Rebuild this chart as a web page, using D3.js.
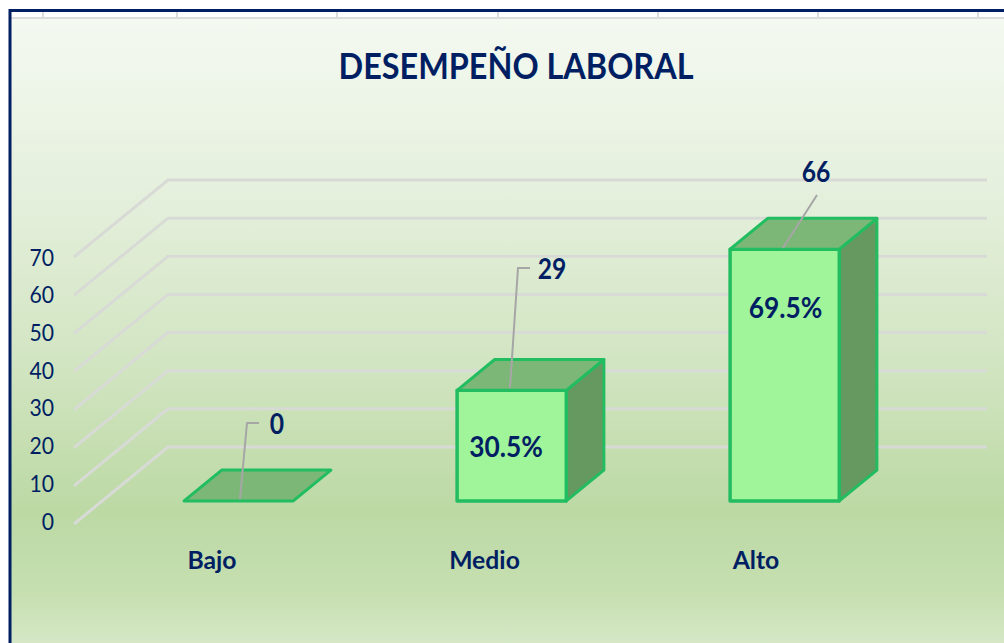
<!DOCTYPE html>
<html><head><meta charset="utf-8">
<script src="https://cdn.jsdelivr.net/npm/d3@7"></script>
<style>html,body{margin:0;padding:0;background:#fff}svg{display:block}text{font-family:Lato,"Open Sans",sans-serif}</style>
</head><body><svg id="c" width="1004" height="643"></svg>
<script>
const categories=["Bajo","Medio","Alto"];
const counts=[0,29,66];
const percents=["","30.5%","69.5%"];
const yTicks=[0,10,20,30,40,50,60,70];
const sheetTicks=[43,177,337,498,658,818,978];
const navy="#001f63";
const svg=d3.select("#c");
const defs=svg.append("defs");
const g=defs.append("linearGradient").attr("id","bg").attr("x1",0).attr("y1",0).attr("x2",0).attr("y2",1);
[[0,"#f4f9f1"],[0.3,"#e4efdb"],[0.55,"#d2e5c2"],[0.79,"#bcd9a4"],[0.92,"#c6dfb1"],[1,"#d5e7c5"]].forEach(s=>g.append("stop").attr("offset",s[0]).attr("stop-color",s[1]));
const soft=defs.append("filter").attr("id","soft").attr("x","-5%").attr("y","-5%").attr("width","110%").attr("height","110%");
soft.append("feGaussianBlur").attr("stdDeviation",0.5);
svg.append("rect").attr("x",10).attr("y",18).attr("width",994).attr("height",625).attr("fill","url(#bg)");
svg.selectAll(".st").data(sheetTicks).join("line").attr("x1",d=>d).attr("x2",d=>d).attr("y1",11).attr("y2",18).attr("stroke","#dcdcdc").attr("stroke-width",2);
svg.append("line").attr("x1",10).attr("x2",1004).attr("y1",18).attr("y2",18).attr("stroke","#dcdcdc").attr("stroke-width",2.2);
svg.append("path").attr("d","M10,643V10.5H1004").attr("fill","none").attr("stroke",navy).attr("stroke-width",3);
const depthX=94,depthY=-77;
const y=d3.scaleLinear().domain([0,70]).range([524,257]);
const yLabel=d3.scaleLinear().domain([0,70]).range([529.5,265.5]);
const x=d3.scaleBand().domain(categories).range([74,893]).padding(0.6).paddingOuter(0.3);
// condense a text by a factor, as the original face is narrower than Lato
function narrow(sel,f){sel.each(function(){const n=this;n.setAttribute("textLength",n.getComputedTextLength()*f);n.setAttribute("lengthAdjust","spacingAndGlyphs");});}
const grid=svg.append("g").attr("fill","none").attr("stroke","#d8dad6").attr("stroke-width",3);
grid.selectAll("path").data(yTicks).join("path").attr("d",d=>`M74,${y(d)}L${74+depthX},${y(d)+depthY}H${74+depthX+819}`);
svg.selectAll(".yl").data(yTicks).join("text").attr("x",54).attr("y",d=>yLabel(d)).attr("text-anchor","end").attr("fill",navy).attr("font-size",23).text(d=>d).call(narrow,0.92);
const d0=0.3,d1=0.7;
const fx=(c)=>x(c)+d0*depthX, bw=x.bandwidth();
const bdx=(d1-d0)*depthX, bdy=(d1-d0)*depthY;
const by=(v)=>y(v)+d0*depthY;
const stroke="#22bd60";
const bars=svg.selectAll(".bar").data(categories.map((c,i)=>({c,v:counts[i],p:percents[i]}))).join("g");
bars.each(function(d){
  const s=d3.select(this).append("g").attr("filter","url(#soft)"),l=fx(d.c),r=l+bw,t=by(d.v),b=by(0);
  if(d.v>0){
    s.append("path").attr("d",`M${r},${b}L${r+bdx},${b+bdy}V${t+bdy}L${r},${t}Z`).attr("fill","#65995f").attr("stroke",stroke).attr("stroke-width",3).attr("stroke-linejoin","round");
    s.append("rect").attr("x",l).attr("y",t).attr("width",bw).attr("height",b-t).attr("fill","#a0f59a").attr("stroke",stroke).attr("stroke-width",3.5).attr("stroke-linejoin","round");
  }
  s.append("path").attr("d",`M${l},${t}L${l+bdx},${t+bdy}H${r+bdx}L${r},${t}Z`).attr("fill","#7db778").attr("stroke",stroke).attr("stroke-width",3).attr("stroke-linejoin","round");
});
const leaders=[[0,[[240,499],[247,423],[259,423]],[277,424]],[1,[[510,388],[518,268],[530,268]],[552,269]],[2,[[783,248],[817,195]],[816,172]]];
leaders.forEach(([i,pts,pos])=>{
  svg.append("path").attr("d",d3.line()(pts)).attr("fill","none").attr("stroke","#a6a6a6").attr("stroke-width",2);
  svg.append("text").attr("x",pos[0]).attr("y",pos[1]).attr("dy","0.36em").attr("text-anchor","middle").attr("fill",navy).attr("font-size",28).attr("font-weight",700).text(counts[i]).call(narrow,0.88);
});
const pctX=[0,506,785.5],pctY=[0,447,308];
bars.filter(d=>d.p).append("text").attr("x",(d)=>pctX[categories.indexOf(d.c)]).attr("y",d=>pctY[categories.indexOf(d.c)]).attr("dy","0.36em").attr("text-anchor","middle").attr("fill",navy).attr("font-size",28).attr("font-weight",700).text(d=>d.p).call(narrow,0.94);
const catX=[212,484.5,756];
categories.forEach((c,i)=>svg.append("text").attr("x",catX[i]).attr("y",560).attr("dy","0.36em").attr("text-anchor","middle").attr("fill",navy).attr("font-size",24).attr("font-weight",700).text(c).call(narrow,1.03));
svg.append("text").attr("x",516).attr("y",66).attr("dy","0.36em").attr("text-anchor","middle").attr("fill",navy).attr("font-size",36).attr("font-weight",700).text("DESEMPEÑO LABORAL").call(narrow,0.9);
</script></body></html>
